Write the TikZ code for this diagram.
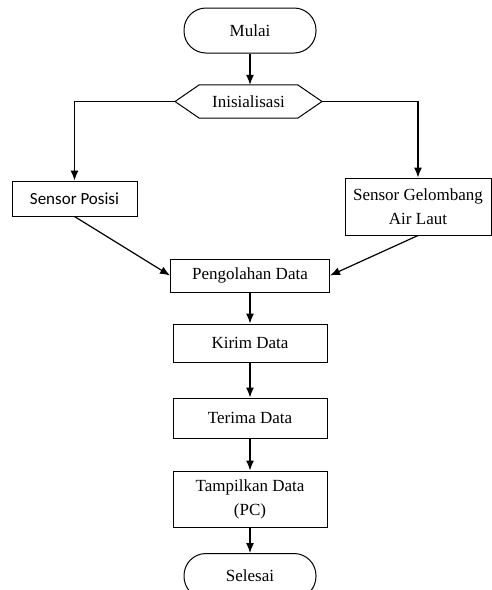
\documentclass[tikz,border=0pt]{standalone}
\usepackage{fontspec}
\setmainfont{Liberation Serif}
\newfontfamily\sansfnt{Carlito}
\usetikzlibrary{positioning, arrows.meta}

\begin{document}
\begin{tikzpicture}[x=1pt, y=-1pt, >={Latex[length=10pt,width=8pt]},
  txt/.style={font=\fontsize{17}{24}\selectfont, align=center, inner sep=2pt},
  box/.style={txt, draw, line width=1pt, minimum width=154pt},
  term/.style={box, rounded corners=22pt, minimum width=132pt, minimum height=45pt},
  flow/.style={->, line width=1.2pt}]
  \useasboundingbox (0,0) rectangle (492,590);
  \clip (0,0) rectangle (492,590);

  \node [term] (mulai) at (250,30.5) {Mulai};
  \node [txt, minimum width=98pt, minimum height=33pt] (init) at (248.5,101.5) {Inisialisasi};
  \coordinate (hexL) at (175,101.5);
  \coordinate (hexR) at (322,101.5);
  \draw [line width=1pt] (init.north west) -- (init.north east) -- (hexR)
    -- (init.south east) -- (init.south west) -- (hexL) -- cycle;

  \node [box, minimum width=125pt, minimum height=35pt, font=\sansfnt\fontsize{17}{24}\selectfont] (posisi) at (74.5,198.5) {Sensor Posisi};
  \node [box, minimum width=146pt, minimum height=57pt] (gelombang) at (418,206.5) {Sensor Gelombang\\Air Laut};
  \node [box, minimum width=159pt, minimum height=33pt] (olah) at (250,275.5) {Pengolahan Data};
  \node [box, minimum height=38pt] (kirim) at (250,343) {Kirim Data};
  \node [box, minimum height=40pt] (terima) at (250,418) {Terima Data};
  \node [box, minimum height=56pt] (tampil) at (250,499) {Tampilkan Data\\(PC)};
  \node [term] (selesai) at (250,576) {Selesai};

  \draw [flow] (mulai.south) -- (mulai.south |- init.north);
  \draw [flow] (hexL) -| (posisi.north);
  \draw [flow] (hexR) -| (gelombang.north);
  \draw [flow] (posisi.south) -- (olah.west);
  \draw [flow] (gelombang.south) -- (olah.east);
  \foreach \a/\b in {olah/kirim, kirim/terima, terima/tampil, tampil/selesai}
    \draw [flow] (\a) -- (\b);

\end{tikzpicture}
\end{document}
